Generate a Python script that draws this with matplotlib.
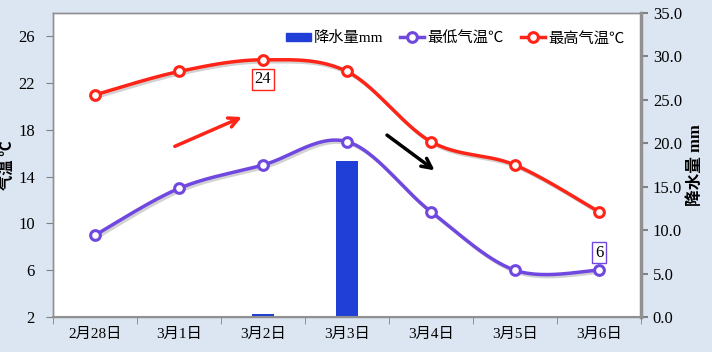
import numpy as np
import matplotlib
matplotlib.use("Agg")
import matplotlib.pyplot as plt
import matplotlib.patheffects as pe
from matplotlib.lines import Line2D
from matplotlib.patches import Patch

plt.rcParams['font.family'] = ['Liberation Serif', 'Noto Sans CJK SC', 'DejaVu Sans']

categories = ["2月28日", "3月1日", "3月2日", "3月3日", "3月4日", "3月5日", "3月6日"]
precip = [0.0, 0.0, 0.3, 18.0, 0.0, 0.0, 0.0]
t_min = [9, 13, 15, 17, 11, 6, 6]
t_max = [21, 23, 24, 23, 17, 15, 11]

BG = "#DCE6F2"
BLUE = "#1F3FD6"
PURPLE = "#7048E0"
RED = "#FF2418"

def smooth(xs, ys, n=30):
    xs = np.asarray(xs, float); ys = np.asarray(ys, float)
    P = np.column_stack([xs, ys])
    out = []
    for i in range(len(P) - 1):
        p0 = P[i - 1] if i > 0 else P[i]
        p1 = P[i]; p2 = P[i + 1]
        p3 = P[i + 2] if i + 2 < len(P) else P[i + 1]
        c1 = p1 + (p2 - p0) / 6.0
        c2 = p2 - (p3 - p1) / 6.0
        t = np.linspace(0, 1, n)[:, None]
        seg = (1-t)**3*p1 + 3*(1-t)**2*t*c1 + 3*(1-t)*t**2*c2 + t**3*p2
        out.append(seg if i == 0 else seg[1:])
    S = np.vstack(out)
    return S[:, 0], S[:, 1]

fig = plt.figure(figsize=(7.12, 3.52), dpi=100, facecolor=BG)
ax = fig.add_axes([0.0744, 0.0994, 0.8259, 0.8636])
ax2 = ax.twinx()
x = np.arange(len(categories))

# bars on secondary axis, drawn behind lines
ax2.bar(x, precip, width=0.26, color=BLUE, zorder=1)
ax2.set_ylim(0, 35)
ax2.set_yticks(np.arange(0, 35.1, 5))
ax2.set_yticklabels([f"{v:.1f}" for v in np.arange(0, 35.1, 5)], fontsize=12)
ax2.set_ylabel("降水量 mm", rotation=90, labelpad=4, fontsize=12, fontweight='bold')

ax.set_zorder(ax2.get_zorder() + 1)
ax.patch.set_visible(False)
ax2.patch.set_visible(True)
ax2.patch.set_facecolor("white")

shadow = [pe.SimpleLineShadow(offset=(1.5, -1.5), shadow_color='gray', alpha=0.35), pe.Normal()]
for ys, c in ((t_max, RED), (t_min, PURPLE)):
    sx, sy = smooth(x, ys)
    ax.plot(sx, sy, color=c, lw=2.5, zorder=3, path_effects=shadow)
    ax.plot(x, ys, 'o', ms=7, mfc='white', mec=c, mew=2.2, zorder=4)

ax.set_xlim(-0.5, len(categories) - 0.5)
ax.set_ylim(2, 28)
ax.set_yticks(np.arange(2, 27, 4))
ax.tick_params(axis='y', labelsize=12, direction='out', length=5, color='#808080', pad=8)
ax.set_ylabel("气温 ℃", fontsize=11, fontweight='bold')
ax.yaxis.set_label_coords(-0.064, 0.5)
ax.set_xticks(x)
ax.set_xticklabels(categories, fontsize=11)
ax.tick_params(axis='x', length=0, pad=8)
ax.set_xticks(np.arange(-0.5, len(categories), 1), minor=True)
ax.tick_params(axis='x', which='minor', direction='out', length=5, color='#808080')
ax2.tick_params(axis='y', direction='out', length=5, color='#808080', width=1.5)

for a in (ax, ax2):
    for s in a.spines.values():
        s.set_color('#909090')
        s.set_linewidth(1)
ax2.spines['right'].set_linewidth(2.5)
ax.spines['bottom'].set_linewidth(1.5)

# data labels
ax.annotate(str(t_max[2]), (x[2], t_max[2]), xytext=(0, -14), textcoords='offset points',
            ha='center', va='center', fontsize=12,
            bbox=dict(boxstyle='square,pad=0.15', fc='white', ec=RED, lw=1))
ax.annotate(str(t_min[6]), (x[6], t_min[6]), xytext=(0, 12.5), textcoords='offset points',
            ha='center', va='center', fontsize=12,
            bbox=dict(boxstyle='square,pad=0.15', fc='white', ec=PURPLE, lw=1))

# trend arrows
ax.annotate("", xy=(1.78, 19.2), xytext=(0.92, 16.5),
            arrowprops=dict(arrowstyle='->,head_length=0.7,head_width=0.35', color=RED, lw=2.5),
            zorder=5)
ax.annotate("", xy=(4.07, 14.4), xytext=(3.45, 17.7),
            arrowprops=dict(arrowstyle='->,head_length=0.7,head_width=0.35', color='black', lw=2.5),
            zorder=5)

handles = [Patch(color=BLUE, label="降水量mm"),
           Line2D([], [], color=PURPLE, lw=2.5, marker='o', ms=7, mfc='white', mec=PURPLE, mew=2.2, label="最低气温℃"),
           Line2D([], [], color=RED, lw=2.5, marker='o', ms=7, mfc='white', mec=RED, mew=2.2, label="最高气温℃")]
leg = ax.legend(handles=handles, loc='upper right', bbox_to_anchor=(0.995, 0.985), ncol=3, frameon=False,
                handlelength=1.6, handleheight=0.5, handletextpad=0.2, columnspacing=1.1,
                prop={'family': ['Liberation Serif', 'Noto Sans CJK SC', 'DejaVu Sans'], 'size': 11})

fig.savefig("out.png", dpi=100, facecolor=BG)
